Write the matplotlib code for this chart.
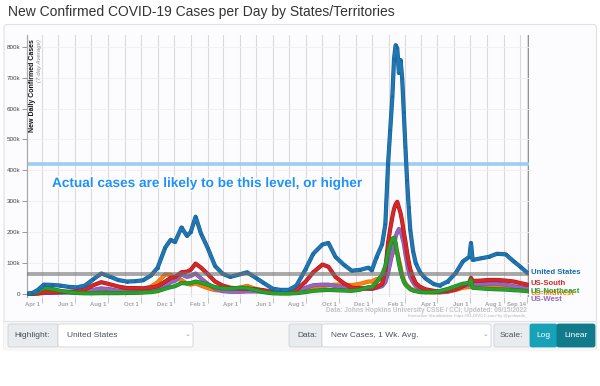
import matplotlib
matplotlib.use("Agg")
import matplotlib.pyplot as plt
import matplotlib.dates as mdates
import matplotlib.patheffects as pe
from matplotlib.patches import FancyBboxPatch, Rectangle
from matplotlib.transforms import ScaledTranslation
import pandas as pd

plt.rcParams['font.family'] = ['Liberation Sans', 'DejaVu Sans']

# ==========================
# DATA (7-day avg, thousands)
# ==========================

dates = [
    "2020-03-05", "2020-03-15", "2020-03-25", "2020-04-05", "2020-04-20",
    "2020-05-05", "2020-05-20", "2020-06-05", "2020-06-20", "2020-07-05",
    "2020-07-20", "2020-08-05", "2020-08-20", "2020-09-05", "2020-09-20",
    "2020-10-05", "2020-10-20", "2020-11-01", "2020-11-15", "2020-11-25",
    "2020-12-03", "2020-12-15", "2020-12-25", "2021-01-01", "2021-01-10",
    "2021-01-20", "2021-02-01", "2021-02-15", "2021-03-01", "2021-03-15",
    "2021-04-01", "2021-04-15", "2021-05-01", "2021-05-15", "2021-06-01",
    "2021-06-15", "2021-07-01", "2021-07-15", "2021-08-01", "2021-08-15",
    "2021-09-01", "2021-09-12", "2021-09-25", "2021-10-10", "2021-10-25",
    "2021-11-10", "2021-11-25", "2021-12-01", "2021-12-10", "2021-12-20",
    "2021-12-26", "2021-12-31", "2022-01-04", "2022-01-08", "2022-01-11",
    "2022-01-14", "2022-01-17", "2022-01-20", "2022-01-23", "2022-01-26",
    "2022-01-29", "2022-02-01", "2022-02-04", "2022-02-07", "2022-02-10",
    "2022-02-15", "2022-02-20", "2022-02-28", "2022-03-10", "2022-03-25",
    "2022-04-05", "2022-04-20", "2022-05-05", "2022-05-18", "2022-05-30",
    "2022-06-02", "2022-06-05", "2022-06-20", "2022-07-05", "2022-07-20",
    "2022-08-05", "2022-08-20", "2022-09-01", "2022-09-14",
]

united_states = [
    0, 3, 13, 30, 29, 27, 23, 21, 27, 47,
    66, 56, 45, 40, 41, 44, 60, 85, 150, 175,
    168, 215, 188, 200, 250, 195, 150, 90, 65, 55,
    63, 70, 52, 36, 17, 13, 13, 27, 80, 130,
    160, 165, 120, 95, 75, 78, 85, 76, 120, 160,
    225, 420, 530, 640, 760, 805, 795, 715, 757, 700,
    590, 476, 370, 282, 207, 140, 100, 70, 50, 32,
    27, 40, 68, 105, 120, 165, 110, 115, 120, 130,
    128, 105, 88, 68,
]

us_south = [
    0, 0.5, 2, 5, 5, 6, 7, 9, 15, 28,
    38, 31, 24, 19, 19, 18, 21, 25, 40, 52,
    55, 70, 72, 78, 98, 85, 65, 40, 27, 20,
    17, 17, 15, 12, 7, 5, 6, 13, 40, 70,
    95, 88, 55, 35, 20, 18, 18, 17, 22, 32,
    75, 165, 210, 250, 275, 290, 298, 280, 262, 235,
    200, 170, 135, 105, 80, 55, 35, 23, 15, 10,
    8, 10, 15, 25, 38, 52, 42, 43, 45, 45,
    43, 40, 35, 30,
]

us_midwest = [
    0, 0.5, 1.5, 4, 5, 7, 6, 4, 4, 5,
    7, 8, 8, 11, 12, 15, 24, 38, 63, 62,
    50, 45, 33, 30, 34, 27, 19, 12, 11, 11,
    20, 26, 16, 10, 4, 2.5, 2.5, 4, 11, 18,
    25, 28, 30, 30, 28, 33, 40, 40, 48, 47,
    58, 87, 110, 130, 136, 140, 135, 110, 87, 60,
    45, 35, 28, 23, 18, 13, 10, 8, 6, 4.5,
    4.5, 7, 13, 20, 22, 25, 22, 22, 22, 24,
    24, 22, 20, 18,
]

us_northeast = [
    0, 1.5, 8, 19, 16, 10, 6, 3, 2, 2,
    2.5, 2.5, 2.5, 3, 3.5, 4.5, 6, 9, 17, 22,
    25, 35, 34, 35, 40, 36, 30, 22, 18, 17,
    20, 19, 12, 6, 2, 1.5, 1.5, 2.5, 6, 10,
    12, 13, 12, 11, 10, 14, 22, 22, 38, 62,
    90, 133, 160, 178, 182, 165, 130, 100, 75, 55,
    40, 30, 25, 20, 15, 11, 9, 6, 5, 6,
    9, 16, 25, 33, 35, 45, 20, 18, 16, 15,
    14, 12, 11, 9,
]

us_west = [
    0, 0.5, 1.5, 3, 3.5, 4, 4.5, 5, 8, 13,
    18, 15, 10, 7, 6, 6, 9, 13, 27, 38,
    42, 63, 55, 58, 66, 50, 33, 17, 9, 7,
    7, 8, 8, 7, 4, 3.5, 4, 8, 20, 28,
    30, 30, 25, 22, 18, 17, 17, 16, 20, 25,
    38, 68, 100, 135, 160, 185, 200, 210, 207, 185,
    165, 130, 100, 75, 55, 38, 25, 17, 10, 7,
    6, 8, 15, 25, 30, 40, 30, 32, 33, 33,
    30, 25, 21, 18,
]

tick_dates = [
    "2020-04-01", "2020-06-01", "2020-08-01", "2020-10-01", "2020-12-01",
    "2021-02-01", "2021-04-01", "2021-06-01", "2021-08-01", "2021-10-01",
    "2021-12-01", "2022-02-01", "2022-04-01", "2022-06-01", "2022-08-01",
    "2022-09-14",
]
tick_labels = [
    "Apr 1", "Jun 1", "Aug 1", "Oct 1", "Dec 1", "Feb 1", "Apr 1", "Jun 1",
    "Aug 1", "Oct 1", "Dec 1", "Feb 1", "Apr 1", "Jun 1", "Aug 1", "Sep 14",
]

actual_level = 420
gray_level = 63

x = pd.to_datetime(dates)

# ==========================
# FIGURE / PANEL
# ==========================

fig = plt.figure(figsize=(6, 3.86), dpi=100)
fig.patch.set_facecolor("white")

bg = fig.add_axes([0, 0, 1, 1], zorder=-1)
bg.set_xlim(0, 600)
bg.set_ylim(386, 0)
bg.axis("off")

top = fig.add_axes([0, 0, 1, 1], zorder=5)
top.set_xlim(0, 600)
top.set_ylim(386, 0)
top.axis("off")

bg.text(8, 12, "New Confirmed COVID-19 Cases per Day by States/Territories",
        fontsize=10, color="#333333", va="center", ha="left")

bg.add_patch(FancyBboxPatch((4, 24.5), 592.5, 326,
                            boxstyle="round,pad=0,rounding_size=3",
                            fc="#fcfcfe", ec="#dfe1e5", lw=0.8))
bg.add_patch(Rectangle((4.4, 320.5), 591.8, 30, fc="#f7f7f8", ec="none"))
bg.plot([4.4, 596.2], [320.5, 320.5], color="#e2e3e6", lw=0.8)


def box(x0, x1, fc, ec="#ced4da"):
    bg.add_patch(FancyBboxPatch((x0, 324), x1 - x0, 23,
                                boxstyle="round,pad=0,rounding_size=2",
                                fc=fc, ec=ec, lw=0.6))


box(8, 58, "#e9ecef")
box(58, 193, "white")
box(289, 322, "#e9ecef")
box(322, 491, "white")
box(494, 531, "#e9ecef")
box(530, 557, "#17a2b8", "#17a2b8")
box(557, 595, "#117a8b", "#117a8b")

ctl = dict(fontsize=6, va="center", color="#495057")
bg.text(14, 335.5, "Highlight:", **ctl)
bg.text(67, 335.5, "United States", **ctl)
bg.text(297, 335.5, "Data:", **ctl)
bg.text(331, 335.5, "New Cases, 1 Wk. Avg.", **ctl)
bg.text(500, 335.5, "Scale:", **ctl)
bg.text(543.5, 335.5, "Log", fontsize=6, va="center", ha="center", color="white")
bg.text(576, 335.5, "Linear", fontsize=6, va="center", ha="center", color="white")
for cx in (187, 486):
    bg.text(cx, 334, "\u2304", fontsize=5, va="center", ha="center",
            color="#9a9a9a", family="DejaVu Sans")

# ==========================
# MAIN AXES
# ==========================

ax = fig.add_axes([27 / 600, (386 - 297) / 386, 502 / 600, 262 / 386])
ax.set_facecolor("none")
ax.set_xlim(pd.Timestamp("2020-03-05"), pd.Timestamp("2022-09-17"))
ax.set_ylim(-10, 838)

ax.set_xticks(pd.to_datetime(tick_dates))
ax.xaxis.set_minor_locator(mdates.MonthLocator())
ax.grid(which="both", axis="x", color="#dadada", lw=0.8)
ax.grid(which="major", axis="y", color="#efefef", lw=0.6)
ax.tick_params(axis="x", which="major", length=4, width=0.6, color="#bbbbbb",
               labelbottom=False)
ax.tick_params(axis="x", which="minor", length=0)

ax.set_yticks(range(0, 801, 100))
ax.set_yticklabels(["0"] + [f"{v}k" for v in range(100, 801, 100)])
ax.tick_params(axis="y", length=3.5, width=0.6, color="#888888",
               labelsize=4.5, pad=1.5, labelcolor="#444444")

for s in ("top", "right", "bottom"):
    ax.spines[s].set_visible(False)
ax.spines["left"].set_color("#a8a8a8")
ax.spines["left"].set_linewidth(0.9)

shift = ScaledTranslation(-1.2 / 72, -3.5 / 72, fig.dpi_scale_trans)
for d, lab in zip(pd.to_datetime(tick_dates), tick_labels):
    ax.text(d, 0, lab, transform=ax.get_xaxis_transform() + shift,
            ha="right", va="top", fontsize=4.2, color="#a5a5a5",
            fontweight="bold")

ax.axvline(pd.Timestamp("2022-09-15"), color="#8a8a8a", lw=1.4, zorder=1)

# reference levels
ax.axhline(actual_level, color="#9fcdf2", lw=2.6, zorder=2)

series = [
    (us_midwest, "#ff7f0e", "#d86a08", "US-Midwest"),
    (us_west, "#9467bd", "#7a50a5", "US-West"),
    (us_south, "#d62728", "#a81819", "US-South"),
    (us_northeast, "#2ca02c", "#1d7d1f", "US-Northeast"),
    (united_states, "#1f77b4", "#175d92", "United States"),
]

for i, (vals, col, dark, name) in enumerate(series):
    ax.plot(x, vals, color=col, lw=2.2, solid_joinstyle="round",
            solid_capstyle="round", zorder=3 + i,
            path_effects=[pe.Stroke(linewidth=3.0, foreground=dark),
                          pe.Normal()])

# highlighted series: daily points shown as dots
ax.plot(x, united_states, ls="none", marker="o", ms=2.0, mew=0,
        mfc="#1a68a3", zorder=8)

ax.axhline(gray_level, color="#707070", lw=2.8, alpha=0.6, zorder=9)

# right-hand labels
label_off = {"United States": 0, "US-South": 1, "US-Northeast": -0.5,
             "US-Midwest": -3.5, "US-West": -8}
for vals, col, dark, name in series:
    off = ScaledTranslation(2 / 72, label_off[name] / 72, fig.dpi_scale_trans)
    ax.text(pd.Timestamp("2022-09-15"), vals[-1], name,
            transform=ax.transData + off, ha="left", va="center",
            fontsize=5.6, fontweight="bold",
            color=col if name != "United States" else "#1a6aa8",
            clip_on=False, zorder=10)

# ==========================
# OVERLAY TEXT
# ==========================

top.text(32.5, 39, "New Daily Confirmed Cases", rotation=90, ha="center",
         va="top", fontsize=5, fontweight="bold", color="#111111")
top.text(39.5, 39, "(7-day Average)", rotation=90, ha="center", va="top",
         fontsize=4.3, color="#8a8a8a", style="italic")

top.text(52, 183, "Actual cases are likely to be this level, or higher",
         ha="left", va="center", fontsize=9.8, fontweight="bold",
         color="#1e90ff",
         path_effects=[pe.SimplePatchShadow(offset=(0.8, -0.8),
                                            shadow_rgbFace="#888888",
                                            alpha=0.6),
                       pe.Stroke(linewidth=2.5, foreground="white"),
                       pe.Normal()])

top.text(527, 310, "Data: Johns Hopkins University CSSE / CCI; Updated: 09/15/2022",
         ha="right", va="center", fontsize=4.7, fontweight="bold",
         color="#c2c2c2")
top.text(527, 316.5,
         "Interactive Visualization: https://91-DIVOC.com/ by @profwade_",
         ha="right", va="center", fontsize=3.1, color="#b5b5b5")

plt.savefig("out.png", dpi=100)
plt.close()
